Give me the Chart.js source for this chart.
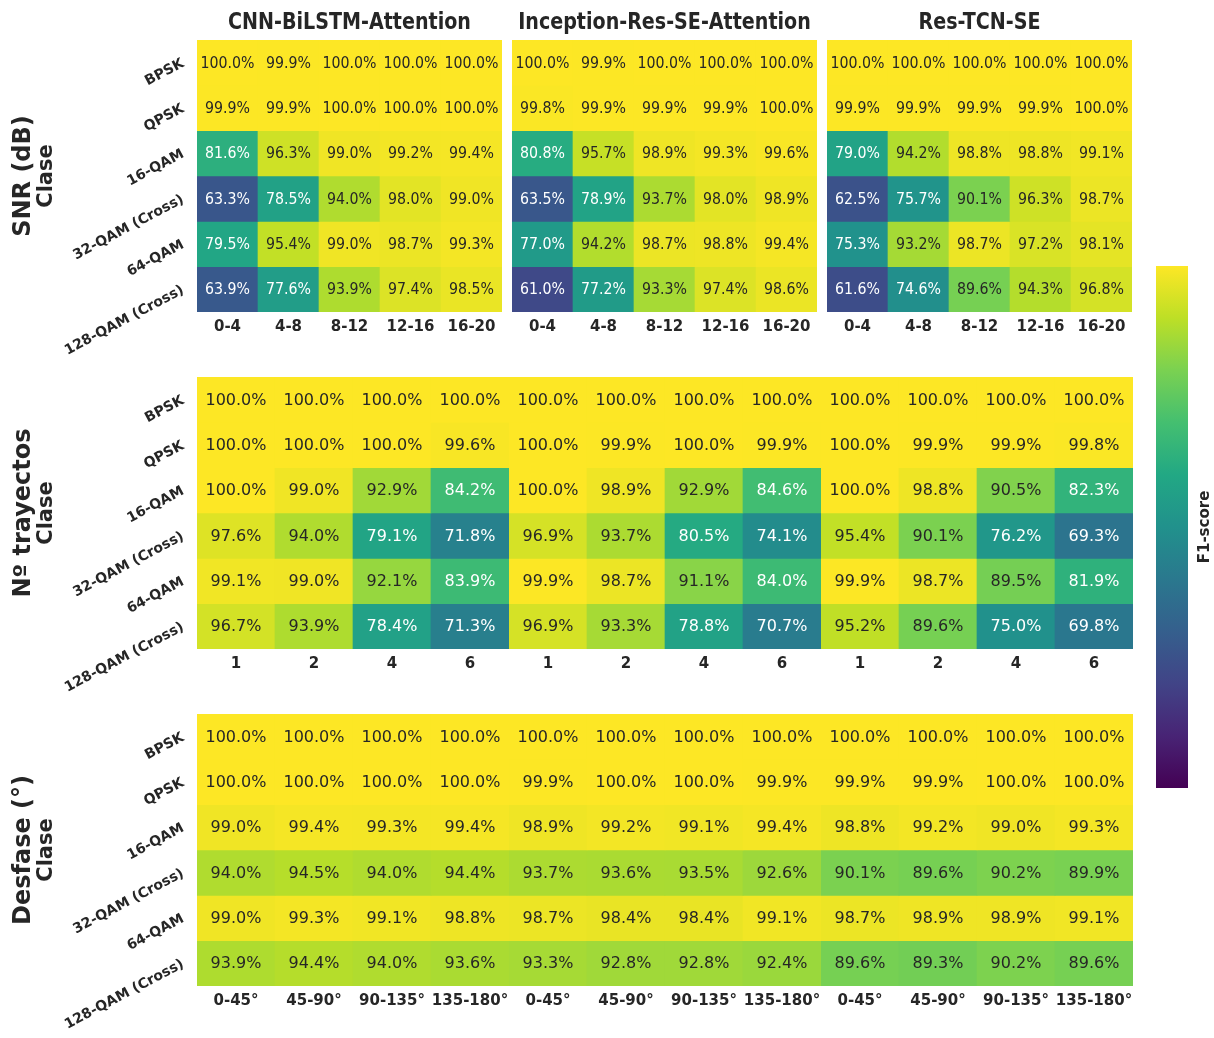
<!DOCTYPE html>
<html lang="es">
<head>
<meta charset="utf-8">
<title>F1-score por clase</title>
<script src="https://cdn.jsdelivr.net/npm/chart.js@4.4.0/dist/chart.umd.min.js"></script>
<style>
    body { margin: 0; background: #fff; }
    #lienzo { position: relative; width: 1214px; height: 1038px; overflow: hidden; background: #fff; }
    #lienzo canvas { position: absolute; }
</style>
</head>
<body>
<div id="lienzo"></div>
<script>
// Datos
const clases = ['BPSK', 'QPSK', '16-QAM', '32-QAM (Cross)', '64-QAM', '128-QAM (Cross)'];
const modelos = ['CNN-BiLSTM-Attention', 'Inception-Res-SE-Attention', 'Res-TCN-SE'];
const snrTicks = ['0-4', '4-8', '8-12', '12-16', '16-20'];
const trayectosTicks = ['1', '2', '4', '6'];
const desfaseTicks = ['0-45°', '45-90°', '90-135°', '135-180°'];

// F1 (%) : filas = clases, columnas = condición
const snrCnn = [
    [100.0, 99.9, 100.0, 100.0, 100.0],
    [99.9, 99.9, 100.0, 100.0, 100.0],
    [81.6, 96.3, 99.0, 99.2, 99.4],
    [63.3, 78.5, 94.0, 98.0, 99.0],
    [79.5, 95.4, 99.0, 98.7, 99.3],
    [63.9, 77.6, 93.9, 97.4, 98.5]
];
const snrInception = [
    [100.0, 99.9, 100.0, 100.0, 100.0],
    [99.8, 99.9, 99.9, 99.9, 100.0],
    [80.8, 95.7, 98.9, 99.3, 99.6],
    [63.5, 78.9, 93.7, 98.0, 98.9],
    [77.0, 94.2, 98.7, 98.8, 99.4],
    [61.0, 77.2, 93.3, 97.4, 98.6]
];
const snrResTcn = [
    [100.0, 100.0, 100.0, 100.0, 100.0],
    [99.9, 99.9, 99.9, 99.9, 100.0],
    [79.0, 94.2, 98.8, 98.8, 99.1],
    [62.5, 75.7, 90.1, 96.3, 98.7],
    [75.3, 93.2, 98.7, 97.2, 98.1],
    [61.6, 74.6, 89.6, 94.3, 96.8]
];
const trayCnn = [
    [100.0, 100.0, 100.0, 100.0],
    [100.0, 100.0, 100.0, 99.6],
    [100.0, 99.0, 92.9, 84.2],
    [97.6, 94.0, 79.1, 71.8],
    [99.1, 99.0, 92.1, 83.9],
    [96.7, 93.9, 78.4, 71.3]
];
const trayInception = [
    [100.0, 100.0, 100.0, 100.0],
    [100.0, 99.9, 100.0, 99.9],
    [100.0, 98.9, 92.9, 84.6],
    [96.9, 93.7, 80.5, 74.1],
    [99.9, 98.7, 91.1, 84.0],
    [96.9, 93.3, 78.8, 70.7]
];
const trayResTcn = [
    [100.0, 100.0, 100.0, 100.0],
    [100.0, 99.9, 99.9, 99.8],
    [100.0, 98.8, 90.5, 82.3],
    [95.4, 90.1, 76.2, 69.3],
    [99.9, 98.7, 89.5, 81.9],
    [95.2, 89.6, 75.0, 69.8]
];
const desfaseCnn = [
    [100.0, 100.0, 100.0, 100.0],
    [100.0, 100.0, 100.0, 100.0],
    [99.0, 99.4, 99.3, 99.4],
    [94.0, 94.5, 94.0, 94.4],
    [99.0, 99.3, 99.1, 98.8],
    [93.9, 94.4, 94.0, 93.6]
];
const desfaseInception = [
    [100.0, 100.0, 100.0, 100.0],
    [99.9, 100.0, 100.0, 99.9],
    [98.9, 99.2, 99.1, 99.4],
    [93.7, 93.6, 93.5, 92.6],
    [98.7, 98.4, 98.4, 99.1],
    [93.3, 92.8, 92.8, 92.4]
];
const desfaseResTcn = [
    [100.0, 100.0, 100.0, 100.0],
    [99.9, 99.9, 100.0, 100.0],
    [98.8, 99.2, 99.0, 99.3],
    [90.1, 89.6, 90.2, 89.9],
    [98.7, 98.9, 98.9, 99.1],
    [89.6, 89.3, 90.2, 89.6]
];
// rango de la escala de color (%)
const escalaF1 = [50, 100];

// Colores y fuentes
const TEXTO = '#262626';
const FUENTE = '"DejaVu Sans", sans-serif';
const viridis = ['#440154', '#482475', '#414487', '#355f8d', '#2a788e', '#21918c',
    '#22a884', '#44bf70', '#7ad151', '#bddf26', '#fde725'];

Chart.defaults.font.family = FUENTE;

function hexARgb(h) {
    return [1, 3, 5].map(i => parseInt(h.substr(i, 2), 16));
}

function colorF1(v) {
    let t = (v - escalaF1[0]) / (escalaF1[1] - escalaF1[0]);
    t = Math.min(1, Math.max(0, t)) * (viridis.length - 1);
    const i = Math.min(Math.floor(t), viridis.length - 2);
    const f = t - i;
    const a = hexARgb(viridis[i]), b = hexARgb(viridis[i + 1]);
    return a.map((c, k) => Math.round(c + (b[k] - c) * f));
}

function rgbTexto(rgb) {
    return `rgb(${rgb[0]}, ${rgb[1]}, ${rgb[2]})`;
}

// mismo criterio que seaborn para el color de la anotación
function colorAnotacion(rgb) {
    const lin = rgb.map(c => {
        c /= 255;
        return c <= 0.03928 ? c / 12.92 : Math.pow((c + 0.055) / 1.055, 2.4);
    });
    const lum = 0.2126 * lin[0] + 0.7152 * lin[1] + 0.0722 * lin[2];
    return lum > 0.408 ? TEXTO : '#ffffff';
}

// Anotaciones de cada celda
const celdas = {
    id: 'celdas',
    afterDatasetsDraw(chart, args, opts) {
        const ctx = chart.ctx;
        chart.data.datasets.forEach((ds, r) => {
            const meta = chart.getDatasetMeta(r);
            meta.data.forEach((barra, i) => {
                const v = ds.f1[i];
                const cy = (barra.y + barra.base) / 2;
                ctx.save();
                ctx.translate(barra.x, cy + 5);
                ctx.scale(opts.comprimir, 1);
                ctx.font = '16px ' + FUENTE;
                ctx.textAlign = 'center';
                ctx.textBaseline = 'alphabetic';
                ctx.fillStyle = colorAnotacion(colorF1(v));
                ctx.fillText(v.toFixed(1) + '%', 0, 0);
                ctx.restore();
            });
        });
    }
};

// Títulos de modelo y etiquetas de fila
const decoracion = {
    id: 'decoracion',
    afterDraw(chart, args, opts) {
        const ctx = chart.ctx;
        const a = chart.chartArea;
        ctx.save();
        ctx.fillStyle = TEXTO;
        if (opts.titulo) {
            ctx.save();
            ctx.translate((a.left + a.right) / 2, a.top - 11);
            ctx.scale(0.83, 1);
            ctx.font = 'bold 23px ' + FUENTE;
            ctx.textAlign = 'center';
            ctx.textBaseline = 'alphabetic';
            ctx.fillText(opts.titulo, 0, 0);
            ctx.restore();
        }
        if (opts.etiqueta) {
            const cy = (a.top + a.bottom) / 2;
            ctx.textAlign = 'center';
            ctx.textBaseline = 'middle';
            ctx.save();
            ctx.translate(24, cy);
            ctx.rotate(-Math.PI / 2);
            ctx.font = 'bold 24px ' + FUENTE;
            ctx.fillText(opts.etiqueta, 0, 0);
            ctx.restore();
            ctx.save();
            ctx.translate(47, cy);
            ctx.rotate(-Math.PI / 2);
            ctx.font = 'bold 21px ' + FUENTE;
            ctx.fillText('Clase', 0, 0);
            ctx.restore();
        }
        ctx.restore();
    }
};

// Disposición de las filas de mapas de calor
const ALTO = 272;
const filas = [
    { etiqueta: 'SNR (dB)', ticks: snrTicks, datos: [snrCnn, snrInception, snrResTcn],
      top: 40, lefts: [197, 512, 827], ancho: 305, comprimir: 0.885, titulos: true },
    { etiqueta: 'Nº trayectos', ticks: trayectosTicks, datos: [trayCnn, trayInception, trayResTcn],
      top: 377, lefts: [197, 509, 821], ancho: 312, comprimir: 1, titulos: false },
    { etiqueta: 'Desfase (°)', ticks: desfaseTicks, datos: [desfaseCnn, desfaseInception, desfaseResTcn],
      top: 714, lefts: [197, 509, 821], ancho: 312, comprimir: 1, titulos: false }
];

const lienzo = document.getElementById('lienzo');

function crearCanvas(left, top, w, h) {
    const canvas = document.createElement('canvas');
    canvas.width = w;
    canvas.height = h;
    canvas.style.left = left + 'px';
    canvas.style.top = top + 'px';
    canvas.style.width = w + 'px';
    canvas.style.height = h + 'px';
    lienzo.appendChild(canvas);
    return canvas;
}

function crearPanel(fila, m) {
    const primero = m === 0;
    const left = fila.lefts[m];
    const canvasLeft = primero ? 0 : left - 12;
    const padLeft = primero ? 7 : 12;
    const padBottom = primero ? 50 : 10;
    const anchoEjeY = primero ? left - padLeft : 0;
    const w = left + fila.ancho + 12 - canvasLeft;
    const h = 40 + ALTO + 30 + padBottom;
    const canvas = crearCanvas(canvasLeft, fila.top - 40, w, h);
    const valores = fila.datos[m];

    new Chart(canvas, {
        type: 'bar',
        data: {
            labels: fila.ticks,
            datasets: clases.map((c, r) => ({
                label: c,
                data: valores[r].map(() => 1),
                f1: valores[r],
                backgroundColor: valores[r].map(v => rgbTexto(colorF1(v))),
                borderWidth: 0,
                barPercentage: 1,
                categoryPercentage: 1
            }))
        },
        options: {
            responsive: false,
            animation: false,
            events: [],
            layout: { padding: { left: padLeft, right: 12, top: 40, bottom: padBottom } },
            scales: {
                x: {
                    stacked: true,
                    grid: { display: false },
                    border: { display: false },
                    ticks: {
                        color: TEXTO,
                        font: { size: 15, weight: 'bold' },
                        padding: -2,
                        maxRotation: 0,
                        autoSkip: false
                    },
                    afterFit: s => { s.height = 30; s.paddingLeft = 0; s.paddingRight = 0; }
                },
                y: {
                    stacked: true,
                    display: false,
                    min: 0,
                    max: clases.length,
                    reverse: true
                },
                clase: {
                    type: 'category',
                    labels: clases,
                    position: 'left',
                    offset: true,
                    display: primero,
                    grid: { display: false },
                    border: { display: false },
                    ticks: {
                        color: TEXTO,
                        font: { size: 14, weight: 'bold' },
                        padding: 6,
                        minRotation: 28,
                        maxRotation: 28,
                        autoSkip: false
                    },
                    afterFit: s => { s.width = anchoEjeY; s.paddingTop = 0; s.paddingBottom = 0; }
                }
            },
            plugins: {
                legend: { display: false },
                tooltip: { enabled: false },
                celdas: { comprimir: fila.comprimir },
                decoracion: {
                    titulo: fila.titulos ? modelos[m] : null,
                    etiqueta: primero ? fila.etiqueta : null
                }
            }
        },
        plugins: [celdas, decoracion]
    });
}

filas.forEach(fila => modelos.forEach((_, m) => crearPanel(fila, m)));

// Barra de color
const etiquetaBarra = {
    id: 'etiquetaBarra',
    afterDraw(chart) {
        const ctx = chart.ctx;
        const a = chart.chartArea;
        ctx.save();
        ctx.translate(59, (a.top + a.bottom) / 2);
        ctx.rotate(-Math.PI / 2);
        ctx.font = 'bold 15px ' + FUENTE;
        ctx.fillStyle = TEXTO;
        ctx.textAlign = 'center';
        ctx.textBaseline = 'middle';
        ctx.fillText('F1-score', 0, 0);
        ctx.restore();
    }
};

const barraCanvas = crearCanvas(1146, 256, 68, 542);
new Chart(barraCanvas, {
    type: 'bar',
    data: {
        labels: ['F1-score'],
        datasets: [{
            data: [escalaF1],
            borderWidth: 0,
            barPercentage: 1,
            categoryPercentage: 1,
            backgroundColor(c) {
                const { ctx, chartArea, scales } = c.chart;
                if (!chartArea) return 'transparent';
                const g = ctx.createLinearGradient(0, scales.y.getPixelForValue(escalaF1[0]),
                    0, scales.y.getPixelForValue(escalaF1[1]));
                viridis.forEach((col, i) => g.addColorStop(i / (viridis.length - 1), col));
                return g;
            }
        }]
    },
    options: {
        responsive: false,
        animation: false,
        events: [],
        layout: { padding: { left: 10, right: 26, top: 10, bottom: 10 } },
        scales: {
            x: { display: false },
            y: { display: false, min: escalaF1[0], max: escalaF1[1] }
        },
        plugins: { legend: { display: false }, tooltip: { enabled: false } }
    },
    plugins: [etiquetaBarra]
});
</script>
</body>
</html>
